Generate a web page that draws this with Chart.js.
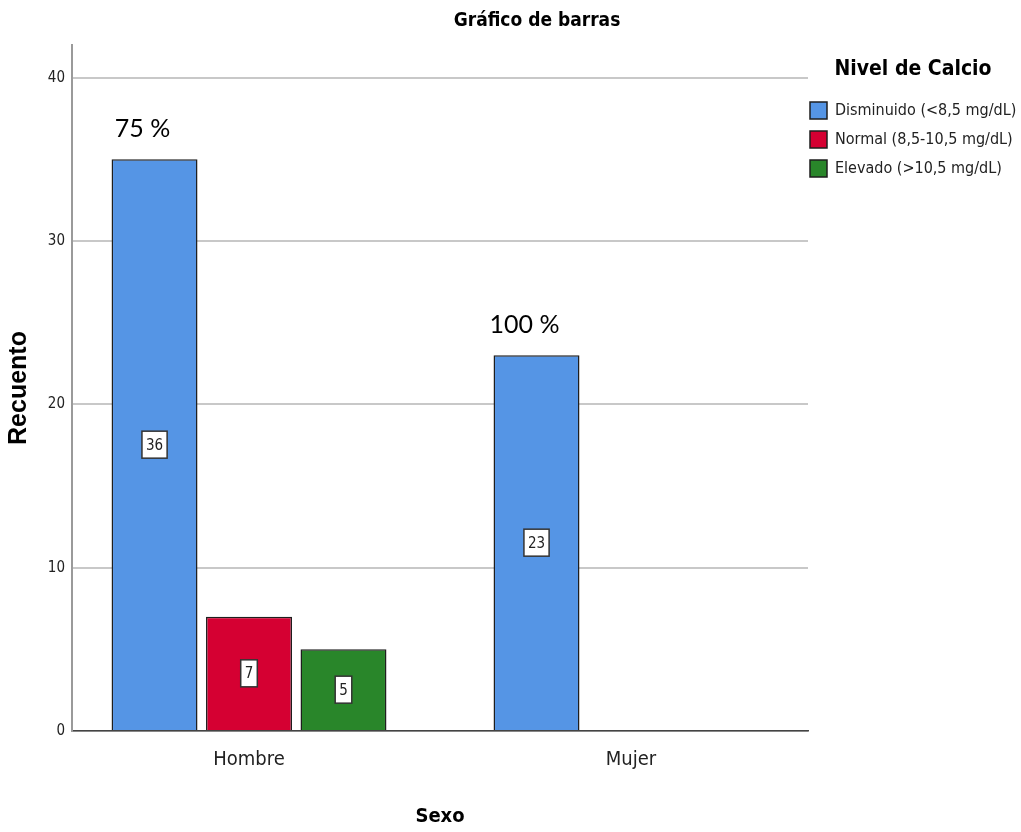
<!DOCTYPE html>
<html>
<head>
<meta charset="utf-8">
<script src="https://cdn.jsdelivr.net/npm/chart.js@4"></script>
<style>
  html, body { margin: 0; padding: 0; background: #fff; }
  #wrap { width: 1021px; height: 832px; }
</style>
</head>
<body>
<div id="wrap"><canvas id="myChart" width="1021" height="832"></canvas></div>
<script>
const categories = ['Hombre', 'Mujer'];

const disminuido = [35, 23];
const normal = [7, null];
const elevado = [5, null];

// text shown in the boxes inside the bars
const disminuidoLabels = ['36', '23'];
const normalLabels = ['7', ''];
const elevadoLabels = ['5', ''];

// percentages written above the blue bars
const pctLabels = ['75 %', '100 %'];

const yTicks = [0, 10, 20, 30, 40];

const narrow = '"DejaVu Sans Condensed", "Liberation Sans Narrow", "Liberation Sans", sans-serif';

// bars sit on a numeric x axis (0 = Hombre, 1 = Mujer) so the group spacing can match
const toPoints = arr => arr.map((v, i) => ({ x: i, y: v }));

const data = {
  datasets: [
    {
      label: 'Disminuido (<8,5 mg/dL)',
      data: toPoints(disminuido),
      boxLabels: disminuidoLabels,
      backgroundColor: '#5595e5',
      borderColor: '#1e1e1e',
      borderWidth: 1.5
    },
    {
      label: 'Normal (8,5-10,5 mg/dL)',
      data: toPoints(normal),
      boxLabels: normalLabels,
      backgroundColor: '#d50032',
      borderColor: '#1e1e1e',
      borderWidth: 1.5
    },
    {
      label: 'Elevado (>10,5 mg/dL)',
      data: toPoints(elevado),
      boxLabels: elevadoLabels,
      backgroundColor: '#29862a',
      borderColor: '#1e1e1e',
      borderWidth: 1.5
    }
  ]
};

// value boxes, percentages, legend title and chart title drawn on top
const extras = {
  id: 'extras',
  afterLayout(chart) {
    // pull the legend items a bit closer to the plot
    chart.legend.left -= 10;
  },
  afterDraw(chart) {
    const ctx = chart.ctx;
    ctx.save();
    chart.data.datasets.forEach((ds, i) => {
      const meta = chart.getDatasetMeta(i);
      meta.data.forEach((bar, j) => {
        const txt = ds.boxLabels[j];
        if (!txt || ds.data[j].y == null) return;
        const cy = (bar.y + bar.base) / 2;
        ctx.font = '15px ' + narrow;
        const w = ctx.measureText(txt).width + 8;
        const h = 27;
        ctx.fillStyle = '#fff';
        ctx.fillRect(bar.x - w / 2, cy - h / 2, w, h);
        ctx.strokeStyle = '#333';
        ctx.lineWidth = 1.5;
        ctx.strokeRect(bar.x - w / 2, cy - h / 2, w, h);
        ctx.fillStyle = '#222';
        ctx.textAlign = 'center';
        ctx.textBaseline = 'middle';
        ctx.fillText(txt, bar.x, cy + 1);
      });
    });
    const blue = chart.getDatasetMeta(0);
    ctx.font = '25px Lato, "Open Sans", sans-serif';
    ctx.fillStyle = '#000';
    ctx.textAlign = 'center';
    ctx.textBaseline = 'middle';
    blue.data.forEach((bar, j) => {
      ctx.fillText(pctLabels[j], bar.x - 12, bar.y - 30);
    });
    ctx.font = 'bold 19px ' + narrow;
    ctx.fillText('Gráfico de barras', 537, 21);
    ctx.font = 'bold 21px ' + narrow;
    ctx.fillText(chart.options.plugins.legend.title.text, 913, 70);
    ctx.restore();
  }
};

const config = {
  type: 'bar',
  data: data,
  options: {
    responsive: false,
    animation: false,
    layout: { padding: { top: 45, right: 0, left: 4, bottom: 3 } },
    datasets: {
      bar: { categoryPercentage: 0.742, barPercentage: 0.91 }
    },
    scales: {
      x: {
        type: 'linear',
        offset: false,
        min: -0.4634,
        max: 1.4634,
        afterDataLimits(scale) { scale.min = -0.4634; scale.max = 1.4634; },
        afterBuildTicks(scale) { scale.ticks = categories.map((c, i) => ({ value: i })); },
        grid: { display: false, offset: false },
        border: { display: true, color: '#444', width: 1.5 },
        ticks: {
          color: '#222', font: { family: narrow, size: 20 }, padding: 9,
          callback: v => categories[v]
        },
        title: {
          display: true, text: 'Sexo', color: '#000',
          font: { family: narrow, size: 20, weight: 'bold' },
          padding: { top: 24, bottom: 0 }
        }
      },
      y: {
        min: 0,
        max: 42,
        afterBuildTicks(scale) { scale.ticks = yTicks.map(v => ({ value: v })); },
        afterFit(scale) { scale.width = 68; },
        grid: { color: '#c8c8c8', lineWidth: 2, drawTicks: false },
        border: { display: true, color: '#9a9a9a', width: 2 },
        ticks: { color: '#222', font: { family: narrow, size: 15 }, padding: 7 },
        title: {
          display: true, text: 'Recuento', color: '#000',
          font: { family: '"Liberation Sans", Arial, sans-serif', size: 25, weight: 'bold' },
          padding: { top: 0, bottom: 10 }
        }
      }
    },
    plugins: {
      tooltip: { enabled: false },
      legend: {
        position: 'right',
        align: 'start',
        maxWidth: 213,
        title: {
          display: true, text: 'Nivel de Calcio', color: 'transparent',
          font: { family: narrow, size: 20, weight: 'bold' },
          padding: { top: 14, bottom: 7 }
        },
        labels: {
          color: '#222',
          boxWidth: 17,
          boxHeight: 17,
          padding: 12,
          font: { family: narrow, size: 16 }
        }
      }
    }
  },
  plugins: [extras]
};

const myChart = new Chart(document.getElementById('myChart'), config);
</script>
</body>
</html>
